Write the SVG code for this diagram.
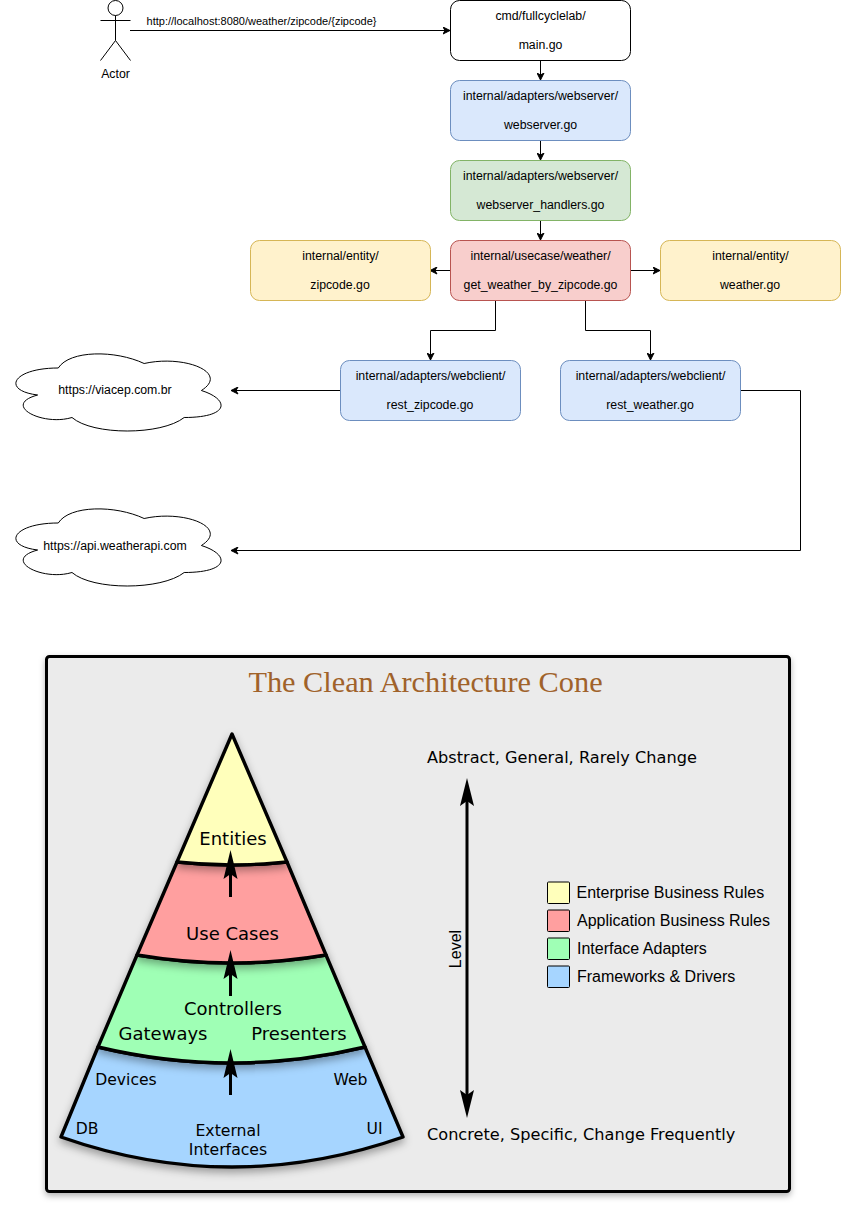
<svg xmlns="http://www.w3.org/2000/svg" width="841" height="1208" viewBox="0 0 841 1208">
<style>
.t{font-family:"Liberation Sans",Arial,sans-serif;font-size:12.3px;text-anchor:middle;fill:#000}
.n{stroke-width:1}
.w{fill:#fff;stroke:#000}
.b{fill:#dae8fc;stroke:#6c8ebf}
.g{fill:#d5e8d4;stroke:#82b366}
.r{fill:#f8cecc;stroke:#b85450}
.y{fill:#fff2cc;stroke:#d6b656}
.c{fill:none;stroke:#000;stroke-width:1}
.s{fill:#fff;stroke:#000;stroke-width:1}
.k{font-family:"DejaVu Sans",Verdana,sans-serif;fill:#000}
.l{font-family:"Liberation Sans",Arial,sans-serif;font-size:16px;fill:#000}
.band{stroke:#000;stroke-width:3.4;stroke-linejoin:round;filter:url(#sh)}
.ar{stroke:#000;stroke-width:3;fill:none}
.lg{stroke:#000;stroke-width:1}
</style>
<defs>
<marker id="a" viewBox="0 0 8 8" refX="7.5" refY="4" markerWidth="8" markerHeight="8" markerUnits="userSpaceOnUse" orient="auto"><path d="M0.5 0.5L7.5 4L0.5 7.5L2.5 4Z" fill="#000" stroke="#000"/></marker>
<filter id="sh" x="-10%" y="-10%" width="120%" height="125%"><feDropShadow dx="0" dy="4" stdDeviation="4" flood-color="#000" flood-opacity=".35"/></filter>
<filter id="ps" x="-3%" y="-3%" width="106%" height="106%"><feDropShadow dx="0" dy="3" stdDeviation="3" flood-color="#000" flood-opacity=".3"/></filter>
<path id="cl" d="M57.250 22.500C11.450 22.500 0 45 36.640 49.500C0 59.400 41.220 81 70.990 72C91.600 90 160.300 90 183.200 72C229 72 229 54 200.375 45C229 27 183.200 9 143.125 18C114.500 4.500 68.700 4.500 57.250 22.500Z"/>
</defs>
<g id="connectors">
<path class="c" marker-end="url(#a)" d="M130 30.500H450"/>
<path class="c" marker-end="url(#a)" d="M540.500 60V80"/>
<path class="c" marker-end="url(#a)" d="M540.500 140V160"/>
<path class="c" marker-end="url(#a)" d="M540.500 220V240"/>
<path class="c" marker-end="url(#a)" d="M450 270.500H430"/>
<path class="c" marker-end="url(#a)" d="M630 270.500H660"/>
<path class="c" marker-end="url(#a)" d="M495.500 300V330.500H430.500V360"/>
<path class="c" marker-end="url(#a)" d="M585.500 300V330.500H650.500V360"/>
<path class="c" marker-end="url(#a)" d="M340 390.500H231"/>
<path class="c" marker-end="url(#a)" d="M740 390.500H800.500V550.500H231"/>
<text class="t" x="261.500" y="25" style="font-size:11px">http://localhost:8080/weather/zipcode/{zipcode}</text>
</g>
<g id="actor"><circle class="s" cx="115.500" cy="8" r="7.500"/><path class="c" d="M115.500 15.500V40.500M100.500 20.500H130.500M100.500 60.500L115.500 40.500L130.500 60.500"/><text class="t" x="115.500" y="78">Actor</text></g>
<g id="main"><rect class="n w" x="450.500" y="0.500" width="180" height="60" rx="9"/><text class="t" x="540.500" y="20">cmd/fullcyclelab/</text><text class="t" x="540.500" y="49">main.go</text></g>
<g id="webserver"><rect class="n b" x="450.500" y="80.500" width="180" height="60" rx="9"/><text class="t" x="540.500" y="100">internal/adapters/webserver/</text><text class="t" x="540.500" y="129">webserver.go</text></g>
<g id="handlers"><rect class="n g" x="450.500" y="160.500" width="180" height="60" rx="9"/><text class="t" x="540.500" y="180">internal/adapters/webserver/</text><text class="t" x="540.500" y="209">webserver_handlers.go</text></g>
<g id="usecase"><rect class="n r" x="450.500" y="240.500" width="180" height="60" rx="9"/><text class="t" x="540.500" y="260">internal/usecase/weather/</text><text class="t" x="540.500" y="289">get_weather_by_zipcode.go</text></g>
<g id="entity-zipcode"><rect class="n y" x="250.500" y="240.500" width="180" height="60" rx="9"/><text class="t" x="340.500" y="260">internal/entity/</text><text class="t" x="340" y="289">zipcode.go</text></g>
<g id="entity-weather"><rect class="n y" x="660.500" y="240.500" width="180" height="60" rx="9"/><text class="t" x="750.500" y="260">internal/entity/</text><text class="t" x="750" y="289">weather.go</text></g>
<g id="rest-zipcode"><rect class="n b" x="340.500" y="360.500" width="180" height="60" rx="9"/><text class="t" x="430.500" y="380">internal/adapters/webclient/</text><text class="t" x="430" y="409">rest_zipcode.go</text></g>
<g id="rest-weather"><rect class="n b" x="560.500" y="360.500" width="180" height="60" rx="9"/><text class="t" x="650.500" y="380">internal/adapters/webclient/</text><text class="t" x="650" y="409">rest_weather.go</text></g>
<g id="cloud-viacep"><use href="#cl" x="1" y="345.500" class="s"/><text class="t" x="115" y="394">https://viacep.com.br</text></g>
<g id="cloud-weatherapi"><use href="#cl" x="1" y="500.500" class="s"/><text class="t" x="115" y="550">https://api.weatherapi.com</text></g>
<g id="cone-panel">
<rect x="46.500" y="656.500" width="743" height="535" rx="3" fill="#ebebeb" stroke="#000" stroke-width="3" filter="url(#ps)"/>
<text x="425.500" y="692" text-anchor="middle" font-family="'Liberation Serif',serif" font-size="30.300" fill="#a0622a">The Clean Architecture Cone</text>
<path class="band" fill="#a6d5ff" d="M98 1047Q232 1079 365 1047L403 1137Q232 1197 61 1137Z"/>
<path class="band" fill="#9fffb5" d="M137 955Q232 971 326 955L365 1047Q232 1079 98 1047Z"/>
<path class="band" fill="#ff9f9f" d="M177 862Q232 868 287 862L326 955Q232 971 137 955Z"/>
<path class="band" fill="#ffffbb" d="M232 734L287 862Q232 868 177 862Z"/>
<text class="k" x="233" y="845" text-anchor="middle" font-size="18">Entities</text>
<text class="k" x="232.500" y="940" text-anchor="middle" font-size="18">Use Cases</text>
<text class="k" x="233" y="1015" text-anchor="middle" font-size="18">Controllers</text>
<text class="k" x="163" y="1040" text-anchor="middle" font-size="18">Gateways</text>
<text class="k" x="299" y="1040" text-anchor="middle" font-size="18">Presenters</text>
<text class="k" x="126" y="1085" text-anchor="middle" font-size="15.600">Devices</text>
<text class="k" x="350.500" y="1085" text-anchor="middle" font-size="15.600">Web</text>
<text class="k" x="87" y="1134" text-anchor="middle" font-size="15.600">DB</text>
<text class="k" x="374.500" y="1134" text-anchor="middle" font-size="15.600">UI</text>
<text class="k" x="228" y="1136" text-anchor="middle" font-size="15.700">External</text>
<text class="k" x="228" y="1155" text-anchor="middle" font-size="15.700">Interfaces</text>
<path class="ar" d="M230.500 897V870"/><path d="M230.500 850L237.500 879L230.500 874L223.500 879Z"/>
<path class="ar" d="M230.500 996V970"/><path d="M230.500 950L237.500 979L230.500 974L223.500 979Z"/>
<path class="ar" d="M230.500 1095V1070"/><path d="M230.500 1049L237.500 1078L230.500 1073L223.500 1078Z"/>
<path class="ar" d="M467 795V1100"/><path d="M467 778L474 806L467 801L460 806Z"/><path d="M467 1118L474 1090L467 1095L460 1090Z"/>
<text class="k" x="427" y="763" font-size="16.150">Abstract, General, Rarely Change</text>
<text class="k" x="427" y="1140" font-size="16.150">Concrete, Specific, Change Frequently</text>
<text class="l" transform="translate(461 949) rotate(-90)" text-anchor="middle">Level</text>
<rect class="lg" x="547.500" y="882" width="22" height="21.500" rx="1" fill="#ffffbb"/>
<rect class="lg" x="547.500" y="910" width="22" height="21.500" rx="1" fill="#ff9f9f"/>
<rect class="lg" x="547.500" y="938" width="22" height="21.500" rx="1" fill="#9fffb5"/>
<rect class="lg" x="547.500" y="966" width="22" height="21.500" rx="1" fill="#a6d5ff"/>
<text class="l" x="576.500" y="898">Enterprise Business Rules</text>
<text class="l" x="577" y="926">Application Business Rules</text>
<text class="l" x="577" y="954">Interface Adapters</text>
<text class="l" x="577" y="982">Frameworks &amp; Drivers</text>
</g>
</svg>
